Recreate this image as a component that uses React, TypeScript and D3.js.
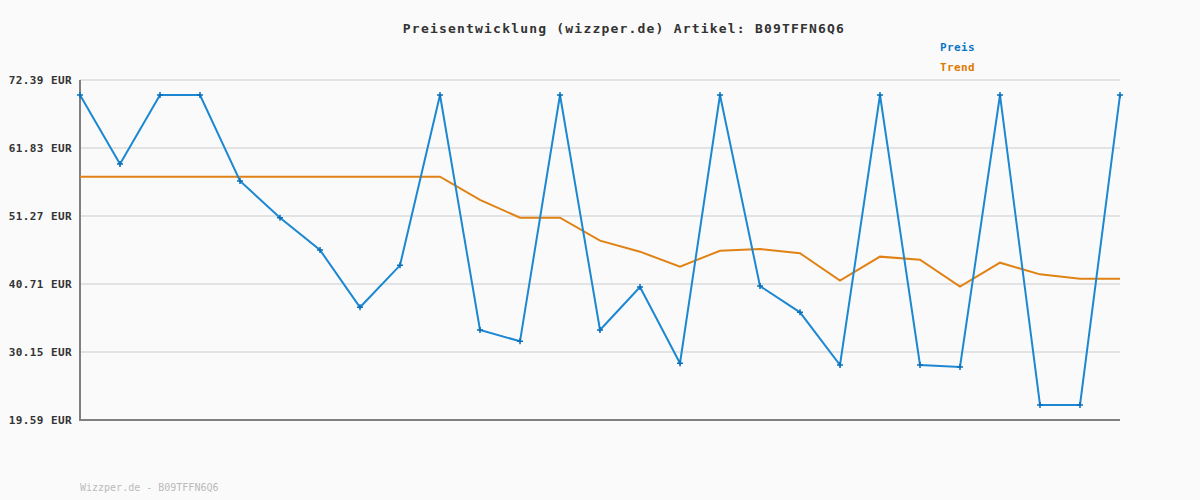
import React from "react";
import * as d3 from "d3";

const title = "Preisentwicklung (wizzper.de) Artikel: B09TFFN6Q6";
const footer = "Wizzper.de - B09TFFN6Q6";
const yTicks = [19.59, 30.15, 40.71, 51.27, 61.83, 72.39];
const preis = [
  70.06, 59.35, 70.06, 70.06, 56.71, 51.01, 45.99, 37.09, 43.61, 70.06,
  33.57, 31.81, 70.06, 33.57, 40.24, 28.4, 70.06, 40.39, 36.31, 28.13,
  70.06, 28.13, 27.82, 70.06, 21.92, 21.92, 70.06,
];
const trend = [
  57.38, 57.38, 57.38, 57.38, 57.38, 57.38, 57.38, 57.38, 57.38, 57.38,
  53.76, 51.01, 51.01, 47.44, 45.73, 43.4, 45.88, 46.14, 45.48, 41.23,
  44.96, 44.49, 40.3, 44.02, 42.21, 41.54, 41.54,
];

const W = 1200;
const H = 500;
const left = 80, right = 1120, top = 80, bottom = 420;

export default function App() {
  const x = d3.scaleLinear().domain([0, preis.length - 1]).range([left, right]);
  const y = d3.scaleLinear().domain([19.59, 72.39]).range([bottom, top]);
  const line = d3.line<number>().x((_, i) => x(i)).y((d) => y(d));
  const mono = "'DejaVu Sans Mono', 'Liberation Mono', monospace";
  return (
    <svg
      width={W}
      height={H}
      style={{ position: "absolute", left: 0, top: 0, background: "#fafafa" }}
    >
      <rect x={0} y={0} width={W} height={H} fill="#fafafa" />
      <text
        x={624}
        y={33}
        textAnchor="middle"
        fontFamily={mono}
        fontSize={13}
        fontWeight="bold"
        letterSpacing={1.2}
        fill="#333"
      >
        {title}
      </text>
      {yTicks.map((t) => (
        <g key={t}>
          {t !== 19.59 && (
            <line x1={left} x2={right} y1={y(t)} y2={y(t)} stroke="#e3e3e3" strokeWidth={2} />
          )}
          <text
            x={72}
            y={y(t) + 4}
            textAnchor="end"
            fontFamily={mono}
            fontSize={11}
            fontWeight="bold"
            letterSpacing={0.4}
            fill="#333"
          >
            {t.toFixed(2)} EUR
          </text>
        </g>
      ))}
      <line x1={left} x2={left} y1={top} y2={bottom} stroke="#808080" strokeWidth={2} />
      <line x1={left - 1} x2={right} y1={bottom} y2={bottom} stroke="#808080" strokeWidth={2} />
      <path d={line(trend) || ""} fill="none" stroke="#e08214" strokeWidth={2} />
      <path d={line(preis) || ""} fill="none" stroke="#1c88d2" strokeWidth={2} />
      {preis.map((v, i) => (
        <path
          key={i}
          d={`M${x(i) - 3},${y(v)}H${x(i) + 3}M${x(i)},${y(v) - 3}V${y(v) + 3}`}
          stroke="#0a6fb8"
          strokeWidth={1.5}
        />
      ))}
      <text x={940} y={51} fontFamily={mono} fontSize={11} fontWeight="bold" letterSpacing={0.4} fill="#0a77c8">
        Preis
      </text>
      <text x={940} y={71} fontFamily={mono} fontSize={11} fontWeight="bold" letterSpacing={0.4} fill="#dd7a00">
        Trend
      </text>
      <text x={80} y={491} fontFamily={mono} fontSize={10} fill="#bbbbbb">
        {footer}
      </text>
    </svg>
  );
}
